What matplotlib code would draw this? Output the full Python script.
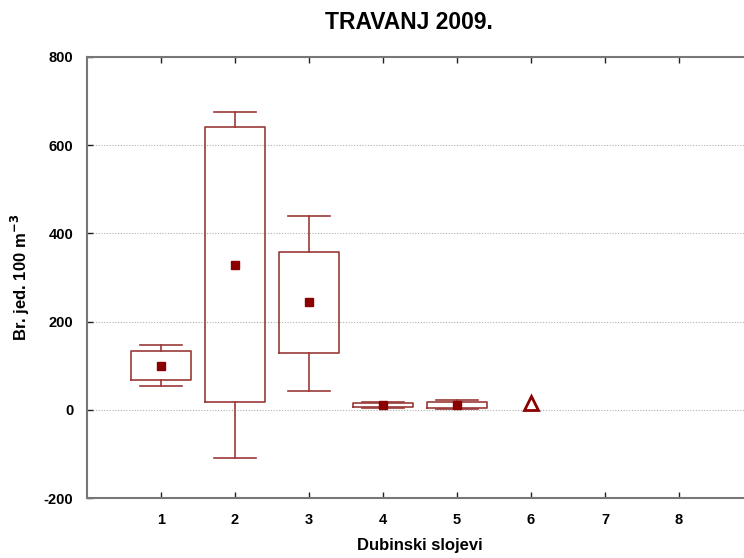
import matplotlib
matplotlib.use("Agg")
import matplotlib.pyplot as plt

# Box statistics per depth layer
layers = [1, 2, 3, 4, 5]
means = [100, 329, 245, 10, 12]
box_low = [68, 18, 129, 7, 5]
box_high = [134, 640, 358, 16, 18]
whisker_low = [54, -109, 43, 4, 2]
whisker_high = [147, 676, 440, 18, 23]

# layer 6 only has a single extreme value
extreme_x = [6]
extreme_y = [16]

tick_labels = ["1", "2", "3", "4", "5", "6", "7", "8"]

BOX_COLOR = "#9b3a3a"
MEAN_COLOR = "#8b0000"

plt.rcParams["font.family"] = ["Liberation Sans", "DejaVu Sans"]
plt.rcParams["font.weight"] = "bold"
plt.rcParams["axes.unicode_minus"] = False

fig = plt.figure(figsize=(7.44, 5.58), dpi=100)
ax = fig.add_axes([0.117, 0.1075, 0.895, 0.7905])

stats = []
for i in range(len(layers)):
    stats.append({
        "med": means[i],
        "q1": box_low[i],
        "q3": box_high[i],
        "whislo": whisker_low[i],
        "whishi": whisker_high[i],
        "mean": means[i],
        "fliers": [],
    })

line_kw = dict(color=BOX_COLOR, linewidth=1.2)
ax.bxp(
    stats,
    positions=layers,
    widths=0.8,
    showmeans=True,
    showfliers=False,
    boxprops=line_kw,
    whiskerprops=line_kw,
    capprops=line_kw,
    medianprops=dict(linewidth=0),
    meanprops=dict(marker="s", markerfacecolor=MEAN_COLOR,
                   markeredgecolor=MEAN_COLOR, markersize=6),
    capwidths=0.56,
    manage_ticks=False,
)

ax.plot(extreme_x, extreme_y, linestyle="none", marker="^", markersize=10,
        markerfacecolor="none", markeredgecolor=MEAN_COLOR, markeredgewidth=2)

ax.set_xlim(0, 9)
ax.set_ylim(-200, 800)
ax.set_xticks(range(1, 9))
ax.set_xticklabels(tick_labels)
ax.set_yticks([-200, 0, 200, 400, 600, 800])

for y in [0, 200, 400, 600]:
    ax.axhline(y, color="#b0b0b0", linestyle=(0, (1, 1.5)), linewidth=0.8, zorder=0)

for side in ["left", "bottom", "top", "right"]:
    ax.spines[side].set_color("#777777")
    ax.spines[side].set_linewidth(1.5)

ax.tick_params(direction="in", length=4, width=1, color="#222222",
               top=True, labelsize=10.5)
ax.tick_params(axis="x", pad=11)
ax.tick_params(axis="y", pad=10)
for lbl in ax.get_xticklabels() + ax.get_yticklabels():
    lbl.set_fontweight("bold")

ax.set_xlabel("Dubinski slojevi", fontsize=12, fontweight="bold", labelpad=8)
ax.set_ylabel("Br. jed. 100 m$^{\\mathbf{-3}}$", fontsize=12, fontweight="bold", labelpad=8)

fig.text(0.55, 0.96, "TRAVANJ 2009.", ha="center", va="center",
         fontsize=16.5, fontweight="bold")

fig.savefig("out.png", dpi=100)
